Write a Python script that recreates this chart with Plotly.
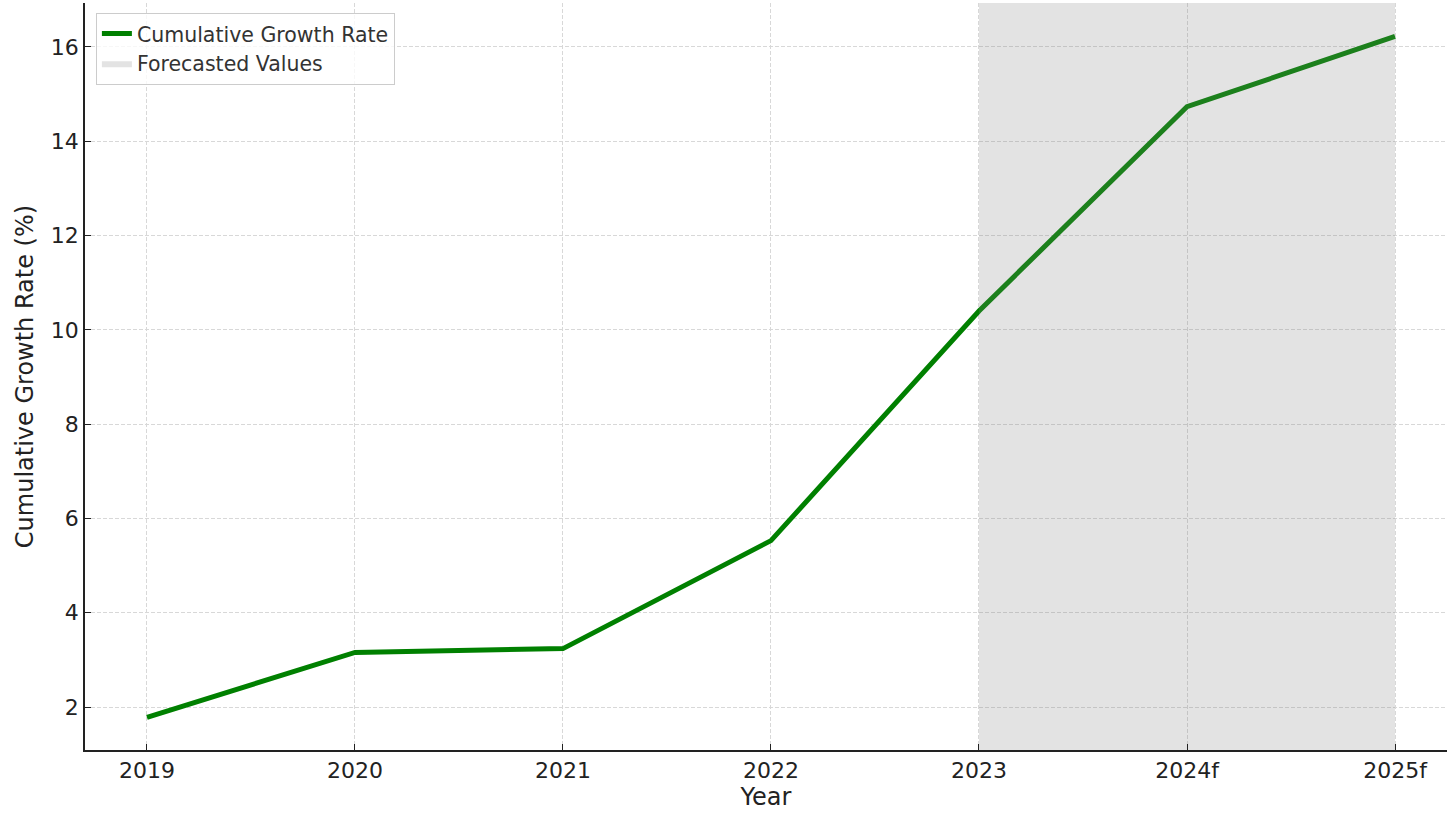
import plotly.graph_objects as go

years = ["2019", "2020", "2021", "2022", "2023", "2024f", "2025f"]
growth = [1.78, 3.16, 3.24, 5.53, 10.40, 14.73, 16.22]
forecast_start = "2023"
forecast_end = "2025f"
y_ticks = [2, 4, 6, 8, 10, 12, 14, 16]
y_range = [1.09, 16.93]

fig = go.Figure()

fig.add_trace(go.Scatter(
    x=years, y=growth, mode="lines", name="Cumulative Growth Rate",
    line=dict(color="#008000", width=5),
))

fig.add_trace(go.Scatter(
    x=[forecast_start, forecast_end, forecast_end, forecast_start, forecast_start],
    y=[y_range[0] - 5, y_range[0] - 5, y_range[1] + 5, y_range[1] + 5, y_range[0] - 5],
    mode="lines", fill="toself", fillcolor="rgba(128,128,128,0.22)",
    line=dict(width=0, color="rgba(128,128,128,0.22)"),
    name="Forecasted Values", hoverinfo="skip",
))

grid = dict(showgrid=True, gridcolor="#d8d8d8", griddash="4px,2px", gridwidth=1)
fig.update_layout(
    width=1447, height=814,
    margin=dict(l=85, r=0, t=3, b=64),
    plot_bgcolor="white", paper_bgcolor="white",
    font=dict(family="DejaVu Sans", size=22, color="#222"),
    xaxis=dict(
        type="category", categoryorder="array", categoryarray=years,
        range=[-0.298, 6.25], title=dict(text="Year", font=dict(size=24), standoff=2),
        showline=True, linecolor="#222", linewidth=1.6,
        ticks="inside", ticklen=6, tickcolor="#222", tickwidth=1.3,
        tickfont=dict(size=22), zeroline=False, **grid,
    ),
    yaxis=dict(
        range=y_range, tickvals=y_ticks,
        title=dict(text="Cumulative Growth Rate (%)", font=dict(size=24), standoff=10),
        showline=True, linecolor="#222", linewidth=1.6,
        ticks="inside", ticklen=6, tickcolor="#222", tickwidth=1.3,
        tickfont=dict(size=22), zeroline=False, **grid,
    ),
    legend=dict(
        x=0.008, y=0.987, xanchor="left", yanchor="top",
        bgcolor="rgba(255,255,255,0.8)", bordercolor="#cccccc", borderwidth=1,
        font=dict(size=20.5, color="#333"), tracegroupgap=2,
    ),
    showlegend=True,
)

fig.write_html("out.html")
